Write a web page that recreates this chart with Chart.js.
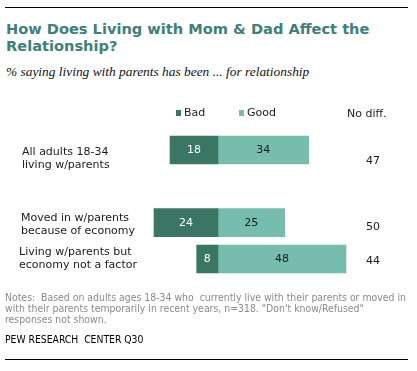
<!DOCTYPE html>
<html>
<head>
<meta charset="utf-8">
<script src="https://cdn.jsdelivr.net/npm/chart.js@4.4.1/dist/chart.umd.min.js"></script>
<style>
  html, body { margin: 0; padding: 0; background: #fff; }
  #wrap { position: relative; width: 417px; height: 371px; overflow: hidden; }
  #chart { position: absolute; left: 0; top: 0; }
  .rule { position: absolute; left: 5px; width: 403px; height: 1px; background: #000; }
  .txt { position: absolute; white-space: nowrap; }
  #title { left: 6px; top: 20px; font: bold 14.6px "DejaVu Sans", sans-serif; color: #3d7f7a; line-height: 17px; }
  #sub { left: 6px; top: 64px; font: italic 13.4px "Liberation Serif", serif; color: #111; }
  #notes { left: 5px; top: 292px; font: 10.4px "DejaVu Sans Condensed", "DejaVu Sans", sans-serif; color: #8a8a8a; line-height: 11px; }
  #source { left: 5px; top: 333px; font: 10.3px "DejaVu Sans Condensed", "DejaVu Sans", sans-serif; color: #000; }
</style>
</head>
<body>
<div id="wrap">
  <div class="rule" style="top:7px"></div>
  <div class="txt" id="title">How Does Living with Mom &amp; Dad Affect the<br>Relationship?</div>
  <div class="txt" id="sub">% saying living with parents has been ... for relationship</div>
  <canvas id="chart" width="417" height="371"></canvas>
  <div class="txt" id="notes">Notes:&nbsp; Based on adults ages 18-34 who&nbsp; currently live with their parents or moved in<br>with their parents temporarily in recent years, n=318. "Don't know/Refused"<br>responses not shown.</div>
  <div class="txt" id="source">PEW RESEARCH&nbsp; CENTER Q30</div>
  <div class="rule" style="top:359px"></div>
</div>
<script>
console.log("---------------drawing chart--------------");

// categories (empty string = spacer row between first and second group)
const categories = [
    ["All adults 18-34", "living w/parents"],
    "",
    ["Moved in w/parents", "because of economy"],
    ["Living w/parents but", "economy not a factor"]
];
const badValues = [18, null, 24, 8];
const goodValues = [34, null, 25, 48];
const noDiffValues = [47, null, 50, 44];

const BAD_COLOR = '#3b7665';
const GOOD_COLOR = '#76bdad';
const FONT = '"DejaVu Sans", sans-serif';

// labels, values and legend drawn on the canvas
const textPlugin = {
    id: 'pewText',
    afterDatasetsDraw(chart) {
        const ctx = chart.ctx;
        const yScale = chart.scales.y;
        const shift = [9, 0, 2, 0];
        ctx.save();
        ctx.font = '11px ' + FONT;
        ctx.textBaseline = 'middle';

        // legend
        ctx.fillStyle = BAD_COLOR;
        ctx.fillRect(176, 110, 5, 6);
        ctx.fillStyle = GOOD_COLOR;
        ctx.fillRect(239, 110, 5, 6);
        ctx.fillStyle = '#1a1a1a';
        ctx.textAlign = 'left';
        ctx.fillText(chart.data.datasets[0].label, 184, 113);
        ctx.fillText(chart.data.datasets[1].label, 247, 113);
        ctx.fillText('No diff.', 347, 114);

        categories.forEach((cat, i) => {
            if (!cat) return;
            const yc = yScale.getPixelForValue(i);
            // row label
            ctx.fillStyle = '#1a1a1a';
            ctx.textAlign = 'left';
            const lines = Array.isArray(cat) ? cat : [cat];
            const lx = [22, 0, 21, 19][i];
            lines.forEach((ln, k) => {
                ctx.fillText(ln, lx, yc + shift[i] + (k - (lines.length - 1) / 2) * 13);
            });
            // no diff column
            ctx.textAlign = 'center';
            ctx.fillText(String(noDiffValues[i]), 373, yc + shift[i] + 2);

            // values in bars
            chart.data.datasets.forEach((ds, d) => {
                const bar = chart.getDatasetMeta(d).data[i];
                if (!bar || ds.data[i] == null) return;
                ctx.fillStyle = d === 0 ? '#ffffff' : '#1a1a1a';
                ctx.fillText(String(Math.abs(ds.data[i])), (bar.x + bar.base) / 2, bar.y);
            });
        });
        ctx.restore();
    }
};

const ctx = document.getElementById('chart');
const pewChart = new Chart(ctx, {
    type: 'bar',
    data: {
        labels: categories,
        datasets: [{
            label: 'Bad',
            data: badValues.map(v => v == null ? null : -v),
            backgroundColor: BAD_COLOR,
            barThickness: 28
        }, {
            label: 'Good',
            data: goodValues,
            backgroundColor: GOOD_COLOR,
            barThickness: 28
        }]
    },
    options: {
        indexAxis: 'y',
        responsive: false,
        animation: false,
        layout: {
            padding: { left: 138, right: 39, top: 131.8, bottom: 93.8 }
        },
        scales: {
            x: { stacked: true, min: -30, max: 60, display: false },
            y: { stacked: true, display: false }
        },
        plugins: {
            legend: { display: false },
            tooltip: { enabled: false }
        }
    },
    plugins: [textPlugin]
});
</script>
</body>
</html>
